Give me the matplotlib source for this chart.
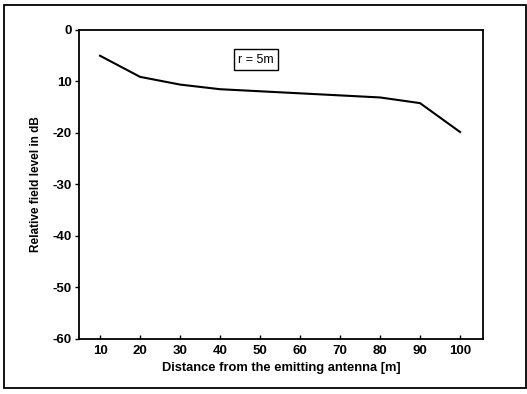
import matplotlib.pyplot as plt
from matplotlib.patches import Rectangle

# distance from antenna (m) and relative field level (dB)
distance = [10, 20, 30, 40, 50, 60, 70, 80, 90, 100]
level = [-5.0, -9.1, -10.6, -11.5, -11.9, -12.3, -12.7, -13.1, -14.2, -19.8]

y_ticks = [0, -10, -20, -30, -40, -50, -60]
y_labels = ["0", "10", "-20", "-30", "-40", "-50", "-60"]
x_ticks = [10, 20, 30, 40, 50, 60, 70, 80, 90, 100]

plt.rcParams['font.family'] = ['Liberation Sans', 'DejaVu Sans']

fig = plt.figure(figsize=(5.27, 3.94), dpi=100)
ax = fig.add_axes([0.150, 0.1396, 0.7665, 0.7843])

ax.plot(distance, level, color='black', linewidth=1.5)

ax.set_xlim(4.75, 105.75)
ax.set_ylim(-60, 0)
ax.set_xticks(x_ticks)
ax.set_yticks(y_ticks)
ax.set_yticklabels(y_labels)
ax.tick_params(axis='both', labelsize=9.5, width=1, length=3, pad=2)
ax.tick_params(axis='x', direction='in', pad=4)
for lbl in ax.get_xticklabels() + ax.get_yticklabels():
    lbl.set_fontweight('bold')
for s in ax.spines.values():
    s.set_linewidth(1.3)

ax.set_xlabel("Distance from the emitting antenna [m]", fontsize=9.3,
              fontweight='bold', labelpad=4)
ax.set_ylabel("Relative field level in dB", fontsize=8.5,
              fontweight='bold', labelpad=8)

# r = 5m label box
ax.text(49.0, -5.8, "r = 5m", fontsize=9, ha='center', va='center',
        bbox=dict(boxstyle='square,pad=0.35', facecolor='white',
                  edgecolor='black', linewidth=1))

# outer frame around the whole figure
fig.patches.append(Rectangle((0.008, 0.015), 0.99, 0.972, transform=fig.transFigure,
                             fill=False, edgecolor='black', linewidth=1.3))

fig.savefig("out.png", dpi=100)
